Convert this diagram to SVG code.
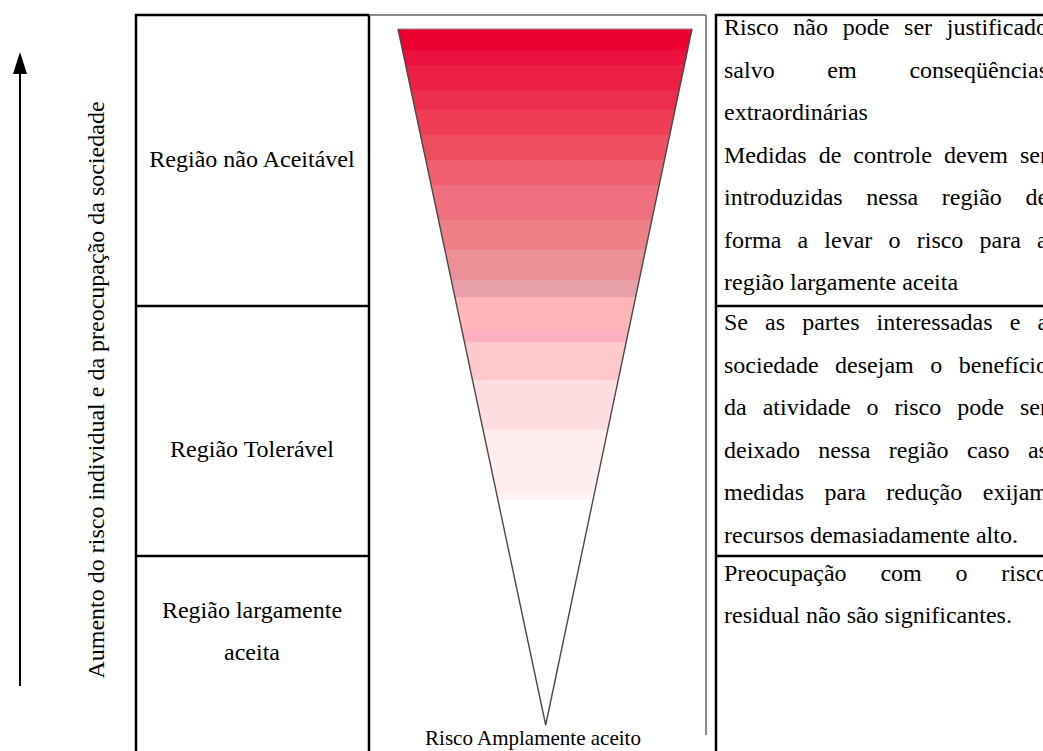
<svg xmlns="http://www.w3.org/2000/svg" width="1043" height="751" viewBox="0 0 1043 751">
  <style>
    .t { font-family: "Liberation Serif", "Times New Roman", serif; font-size: 24px; fill: #000; }
    .c { text-anchor: middle; }
    .lbl { font-family: "Liberation Serif", "Times New Roman", serif; font-size: 21px; fill: #000; }
    .grid { stroke: #000; stroke-width: 2.5; fill: none; }
    .thin { stroke: #666; stroke-width: 1.5; fill: none; }
  </style>
  <defs>
    <!-- banded red-to-white fill of the risk funnel -->
    <linearGradient id="riskFill" gradientUnits="userSpaceOnUse" x1="0" y1="29" x2="0" y2="725">
      <stop offset="0" stop-color="#EB0030"/>
      <stop offset="0.030" stop-color="#EB0030"/>
      <stop offset="0.030" stop-color="#EC1040"/>
      <stop offset="0.052" stop-color="#EC1040"/>
      <stop offset="0.052" stop-color="#EC1F45"/>
      <stop offset="0.088" stop-color="#EC1F45"/>
      <stop offset="0.088" stop-color="#EC2E4E"/>
      <stop offset="0.116" stop-color="#EC2E4E"/>
      <stop offset="0.116" stop-color="#EE3D55"/>
      <stop offset="0.152" stop-color="#EE3D55"/>
      <stop offset="0.152" stop-color="#EE4F60"/>
      <stop offset="0.188" stop-color="#EE4F60"/>
      <stop offset="0.188" stop-color="#F0606E"/>
      <stop offset="0.224" stop-color="#F0606E"/>
      <stop offset="0.224" stop-color="#F07080"/>
      <stop offset="0.274" stop-color="#F07080"/>
      <stop offset="0.274" stop-color="#F08088"/>
      <stop offset="0.318" stop-color="#F08088"/>
      <stop offset="0.318" stop-color="#EC9098"/>
      <stop offset="0.361" stop-color="#EC9098"/>
      <stop offset="0.361" stop-color="#E8A0A8"/>
      <stop offset="0.385" stop-color="#E8A0A8"/>
      <stop offset="0.385" stop-color="#FFB4B8"/>
      <stop offset="0.432" stop-color="#FFB4B8"/>
      <stop offset="0.432" stop-color="#FFB0C0"/>
      <stop offset="0.450" stop-color="#FFB0C0"/>
      <stop offset="0.450" stop-color="#FFC8CA"/>
      <stop offset="0.504" stop-color="#FFC8CA"/>
      <stop offset="0.504" stop-color="#FFDCDF"/>
      <stop offset="0.576" stop-color="#FFDCDF"/>
      <stop offset="0.576" stop-color="#FFEDEE"/>
      <stop offset="0.667" stop-color="#FFEDEE"/>
      <stop offset="0.667" stop-color="#FFF5F8"/>
      <stop offset="0.677" stop-color="#FFF5F8"/>
      <stop offset="0.677" stop-color="#FFFFFF"/>
      <stop offset="1" stop-color="#FFFFFF"/>
    </linearGradient>
  </defs>

  <rect width="1043" height="751" fill="#fff"/>

  <!-- table rules -->
  <g id="table">
    <path class="grid" d="M136,751 V15 H369 M369,15 V751 M136,306 H369 M136,556 H369"/>
    <path class="thin" d="M369,15 H706 M706,15 V735"/>
    <path class="grid" d="M716,751 V15 H1043 M716,306 H1043 M716,556 H1043"/>
  </g>

  <!-- vertical axis arrow -->
  <g id="axis">
    <line x1="20" y1="686" x2="20" y2="70" stroke="#000" stroke-width="2"/>
    <polygon points="20,52 13,74 27,74" fill="#000"/>
    <text class="t c" transform="translate(104,390) rotate(-90)">Aumento do risco individual e da preocupação da sociedade</text>
  </g>

  <!-- region labels -->
  <g id="region-unacceptable">
    <text class="t c" x="252" y="167">Região não Aceitável</text>
  </g>
  <g id="region-tolerable">
    <text class="t c" x="252" y="457">Região Tolerável</text>
  </g>
  <g id="region-accepted">
    <text class="t c" x="252" y="618">Região largamente</text>
    <text class="t c" x="252" y="660">aceita</text>
  </g>

  <!-- risk funnel -->
  <g id="funnel">
    <polygon points="398,29 692,29 545.7,725" fill="url(#riskFill)"/>
    <line x1="398" y1="29" x2="692" y2="29" stroke="#8a8a8a" stroke-width="1"/>
    <path d="M398,29 L545.7,725 L692,29" fill="none" stroke="#4a4a4a" stroke-width="1.4" stroke-linejoin="miter"/>
    <text class="lbl c" x="533" y="745">Risco Amplamente aceito</text>
  </g>

  <!-- descriptions (justified) -->
  <g id="desc-unacceptable">
    <text class="t" x="724" y="35" word-spacing="8.7">Risco não pode ser justificado</text>
    <text class="t" x="724" y="77.5" word-spacing="46.7">salvo em conseqüências</text>
    <text class="t" x="724" y="120">extraordinárias</text>
    <text class="t" x="724" y="162.5" word-spacing="6">Medidas de controle devem ser</text>
    <text class="t" x="724" y="205" word-spacing="17.6">introduzidas nessa região de</text>
    <text class="t" x="724" y="247.5" word-spacing="10.2">forma a levar o risco para a</text>
    <text class="t" x="724" y="290">região largamente aceita</text>
  </g>
  <g id="desc-tolerable">
    <text class="t" x="724" y="330" word-spacing="11.1">Se as partes interessadas e a</text>
    <text class="t" x="724" y="372.5" word-spacing="10.5">sociedade desejam o benefício</text>
    <text class="t" x="724" y="415" word-spacing="10">da atividade o risco pode ser</text>
    <text class="t" x="724" y="457.5" word-spacing="12.35">deixado nessa região caso as</text>
    <text class="t" x="724" y="500" word-spacing="14.5">medidas para redução exijam</text>
    <text class="t" x="724" y="542.5">recursos demasiadamente alto.</text>
  </g>
  <g id="desc-accepted">
    <text class="t" x="724" y="581" word-spacing="27.8">Preocupação com o risco</text>
    <text class="t" x="724" y="623">residual não são significantes.</text>
  </g>
</svg>
